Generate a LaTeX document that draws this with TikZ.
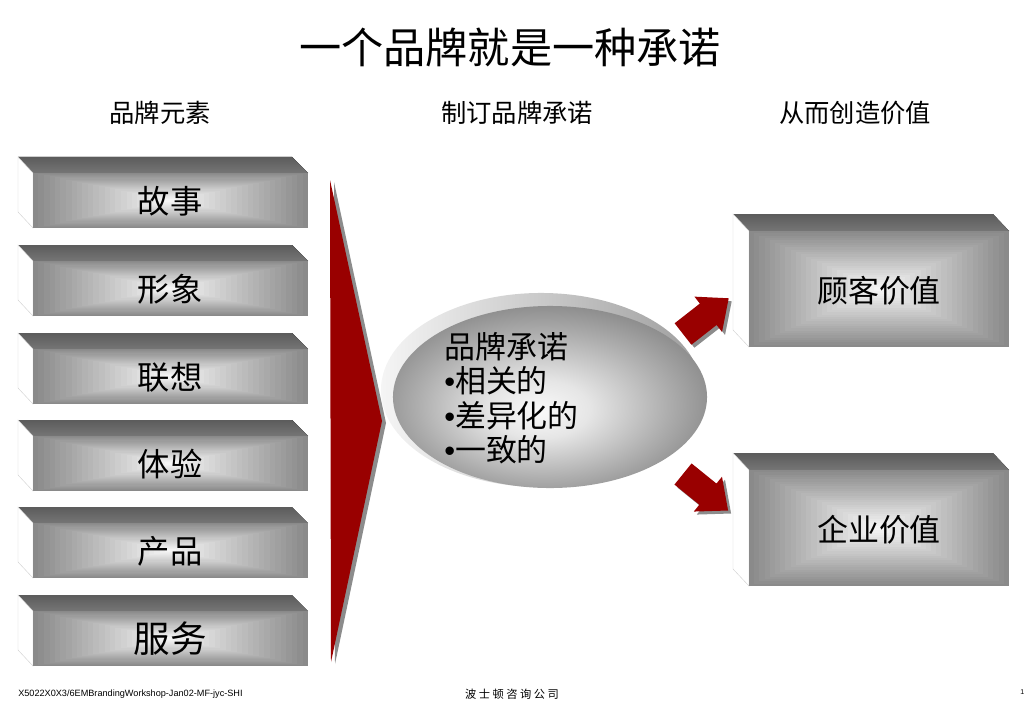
\documentclass[tikz,border=0pt]{standalone}
\usepackage{fontspec}
\setmainfont{Noto Sans CJK SC}
\newfontfamily\footfont{Liberation Sans}
\usepackage{tikz}
\usetikzlibrary{shapes.geometric, positioning, calc}
\definecolor{brandred}{HTML}{990000}

% rectangular gradient, dark rim to light centre
\newcommand{\glowfill}[2]{%
  \foreach \k in {0,...,24}{%
    \pgfmathsetmacro\glowc{46-42*\k/24}%
    \fill[black!\glowc] ($#1!\k/50!#2$) rectangle ($#2!\k/50!#1$);}}
\pgfdeclareradialshading{discglow}{\pgfpoint{-2bp}{-4bp}}{color(0bp)=(black!2); color(8bp)=(black!10); color(20bp)=(black!32); color(28bp)=(black!46); color(50bp)=(black!50)}

\begin{document}
\begin{tikzpicture}[x=0.025cm, y=-0.025cm,
  topface/.style={top color=black!64, bottom color=black!54, draw=none},
  sideface/.style={fill=white, draw=black!18, line width=0.3pt},
  head/.style={font=\fontsize{18}{20}\selectfont},
  lbl/.style={font=\fontsize{22}{24}\selectfont, text=black},
  arrowshape/.style={fill=brandred},
  arrowshade/.style={fill=black!45}]
  \useasboundingbox (0,0) rectangle (1024,709);

  % titles
  \node[font=\fontsize{30}{34}\selectfont] (title) at (510,47) {一个品牌就是一种承诺};
  \node[head] (h1) at (160,113) {品牌元素};
  \node[head] (h2) at (517,113) {制订品牌承诺};
  \node[head] (h3) at (855,113) {从而创造价值};

  % brand elements
  \foreach \txt/\t/\fs [count=\i] in {故事/157/23, 形象/245/23, 联想/333/23, 体验/420/23, 产品/507/23, 服务/595/26} {
    \fill[topface] (18,\t) -- (292,\t) -- (308,\t+16) -- (33,\t+16) -- cycle;
    \filldraw[sideface] (18,\t) -- (33,\t+16) -- (33,\t+71) -- (18,\t+55) -- cycle;
    \glowfill{(33,\t+16)}{(308,\t+71)}
    \node[font=\fontsize{\fs}{\fs}\selectfont] (elem\i) at (170,\t+44) {\txt};
  }

  % big chevron
  \fill[black!45] (334,182) -- (386,423) -- (335,664) -- cycle;
  \fill[brandred] (330,180) -- (382,421) -- (331,662) -- cycle;

  % promise disc
  \node[ellipse, minimum width=8cm, minimum height=4.85cm, left color=black!4, right color=black!38] (rim) at (541,390) {};
  \node[ellipse, minimum width=7.85cm, minimum height=4.55cm, shading=discglow] (disc) at (550,397) {};
  \node[anchor=west, align=left, font=\fontsize{22}{24.5}\selectfont, inner sep=0pt] (promise) at (444,398)
    {品牌承诺\\{\footfont•}相关的\\{\footfont•}差异化的\\{\footfont•}一致的};

  % value boxes
  \foreach \txt/\t/\nm in {顾客价值/214/custval, 企业价值/453/firmval} {
    \fill[topface] (733,\t) -- (993,\t) -- (1009,\t+17) -- (749,\t+17) -- cycle;
    \filldraw[sideface] (733,\t) -- (749,\t+17) -- (749,\t+133) -- (733,\t+116) -- cycle;
    \glowfill{(749,\t+17)}{(1009,\t+133)}
    \node[lbl] (\nm) at (879,\t+77) {\txt};
  }

  % arrows from disc to value boxes
  \coordinate (upTail) at (683,334);
  \coordinate (dnTail) at (683,474);
  \foreach \c/\a in {upTail/38, dnTail/-39} {
    \begin{scope}[shift={(\c)}, shift={(3,3)}, rotate=\a, x=1cm, y=1cm]
      \fill[arrowshade] (0,-0.34) -- (0.8,-0.34) -- (0.8,-0.56) -- (1.45,0) -- (0.8,0.56) -- (0.8,0.34) -- (0,0.34) -- cycle;
    \end{scope}
    \begin{scope}[shift={(\c)}, rotate=\a, x=1cm, y=1cm]
      \fill[arrowshape] (0,-0.34) -- (0.8,-0.34) -- (0.8,-0.56) -- (1.45,0) -- (0.8,0.56) -- (0.8,0.34) -- (0,0.34) -- cycle;
    \end{scope}
  }

  % footer
  \node[anchor=west, font=\footfont\fontsize{6.5}{7}\selectfont, inner sep=0pt] (ref) at (18,694) {X5022X0X3/6EMBrandingWorkshop-Jan02-MF-jyc-SHI};
  \node[font=\fontsize{8}{9}\selectfont] (firm) at (512,694) {波 士 顿 咨 询 公 司};
  \node[anchor=west, font=\footfont\fontsize{5}{6}\selectfont, inner sep=0pt] (page) at (1020,692) {1};
\end{tikzpicture}
\end{document}
